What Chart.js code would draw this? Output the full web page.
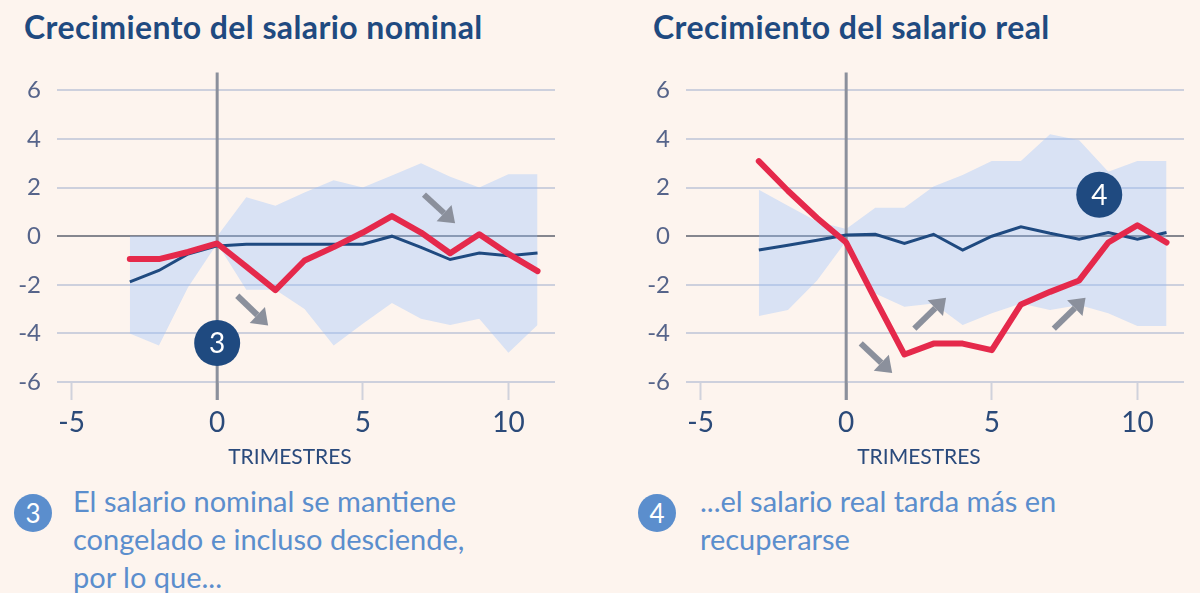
<!DOCTYPE html>
<html lang="es">
<head>
  <meta charset="UTF-8" />
  <title>Crecimiento del salario</title>
  <script src="https://cdn.jsdelivr.net/npm/chart.js"></script>
  <style>
    body { margin: 0; width: 1200px; height: 593px; background: #fdf4ee; font-family: Lato, "Open Sans", sans-serif; position: relative; overflow: hidden; }
    .title { position: absolute; top: 11px; font-weight: 700; font-size: 32px; line-height: 32px; letter-spacing: 0.4px; color: #1f4a80; white-space: nowrap; }
    canvas { position: absolute; top: 60px; }
    .note { position: absolute; top: 482px; font-size: 29px; line-height: 38px; color: #5b8ecd; white-space: nowrap; }
    .dot { position: absolute; top: 494px; width: 38px; height: 38px; border-radius: 50%; background: #5b8ecd; color: #fff; font-size: 26px; line-height: 38px; text-align: center; }
  </style>
</head>
<body>
  <div class="title" style="left:24px">Crecimiento del salario nominal</div>
  <div class="title" style="left:653px">Crecimiento del salario real</div>

  <canvas id="chartNominal" width="571" height="420" style="left:0"></canvas>
  <canvas id="chartReal" width="571" height="420" style="left:629px"></canvas>

  <div class="dot" style="left:14px">3</div>
  <div class="note" style="left:73px">El salario nominal se mantiene<br>congelado e incluso desciende,<br>por lo que...</div>
  <div class="dot" style="left:638px">4</div>
  <div class="note" style="left:700px">...el salario real tarda más en<br>recuperarse</div>

  <script>
    // trimestres relativos al inicio
    const trimestres = [-3, -2, -1, 0, 1, 2, 3, 4, 5, 6, 7, 8, 9, 10, 11];
    const xTicks = [-5, 0, 5, 10];
    const yTicks = [-6, -4, -2, 0, 2, 4, 6];

    // salario nominal
    const nominalPais    = [-0.94, -0.94, -0.65, -0.3, -1.25, -2.22, -1.0, -0.45, 0.15, 0.83, 0.15, -0.7, 0.08, -0.73, -1.44];
    const nominalMediana = [-1.88, -1.41, -0.73, -0.4, -0.33, -0.33, -0.33, -0.33, -0.33, 0.0, -0.46, -0.96, -0.69, -0.8, -0.69];
    const nominalMax     = [0, 0, 0, 0, 1.6, 1.25, 1.8, 2.3, 2.0, 2.5, 3.0, 2.45, 2.0, 2.55, 2.55];
    const nominalMin     = [-4.0, -4.5, -2.1, -0.3, -2.2, -2.2, -3.0, -4.5, -3.6, -2.75, -3.4, -3.65, -3.4, -4.8, -3.65];

    // salario real
    const realPais    = [3.09, 1.87, 0.75, -0.26, -2.6, -4.87, -4.42, -4.42, -4.69, -2.81, -2.29, -1.82, -0.26, 0.45, -0.26];
    const realMediana = [-0.57, -0.37, -0.17, 0.05, 0.08, -0.3, 0.08, -0.57, 0.0, 0.39, 0.12, -0.12, 0.15, -0.12, 0.15];
    const realMax     = [1.91, 1.25, 0.6, 0.3, 1.17, 1.17, 2.05, 2.52, 3.09, 3.09, 4.2, 3.95, 2.65, 3.09, 3.09];
    const realMin     = [-3.28, -3.04, -1.82, -0.2, -2.36, -2.9, -2.77, -3.65, -3.17, -2.77, -3.04, -2.83, -3.17, -3.7, -3.7];

    // flechas [x0, y0, x1, y1] y marcadores en coordenadas de datos
    const flechasNominal = [[0.69, -2.45, 1.75, -3.67], [7.1, 1.71, 8.17, 0.53]];
    const flechasReal = [[0.5, -4.41, 1.58, -5.63], [2.34, -3.8, 3.43, -2.53], [7.13, -3.8, 8.22, -2.53]];
    const marcaNominal = { x: 0, y: -4.4, label: "3" };
    const marcaReal = { x: 8.69, y: 1.71, label: "4" };

    const ROJO = "#e5294b";
    const AZUL = "#1f4a80";
    const BANDA = "rgba(150, 193, 255, 0.35)";
    const GRIS = "#8b909c";

    const pts = (ys) => trimestres.map((x, i) => ({ x: x, y: ys[i] }));

    function dibujarFlecha(ctx, x0, y0, x1, y1) {
      const ang = Math.atan2(y1 - y0, x1 - x0);
      const head = 15;
      ctx.strokeStyle = GRIS;
      ctx.fillStyle = GRIS;
      ctx.lineWidth = 6;
      ctx.lineCap = "butt";
      ctx.beginPath();
      ctx.moveTo(x0, y0);
      ctx.lineTo(x1 - Math.cos(ang) * head, y1 - Math.sin(ang) * head);
      ctx.stroke();
      ctx.beginPath();
      ctx.moveTo(x1, y1);
      ctx.lineTo(x1 - Math.cos(ang) * head + Math.sin(ang) * 11, y1 - Math.sin(ang) * head - Math.cos(ang) * 11);
      ctx.lineTo(x1 - Math.cos(ang) * head - Math.sin(ang) * 11, y1 - Math.sin(ang) * head + Math.cos(ang) * 11);
      ctx.closePath();
      ctx.fill();
    }

    function crearGrafico(id, pais, mediana, maxi, mini, flechas, marca) {
      const ctx = document.getElementById(id).getContext("2d");

      const decoracion = {
        id: "decoracion",
        beforeDatasetsDraw(chart) {
          const c = chart.ctx;
          const x = chart.scales.x.getPixelForValue(0);
          c.save();
          c.strokeStyle = GRIS;
          c.lineWidth = 3;
          c.beginPath();
          c.moveTo(x, chart.chartArea.top - 18);
          c.lineTo(x, chart.chartArea.bottom + 18);
          c.stroke();
          c.restore();
        },
        afterDatasetsDraw(chart) {
          const c = chart.ctx;
          const sx = chart.scales.x, sy = chart.scales.y;
          c.save();
          flechas.forEach(f => {
            dibujarFlecha(c, sx.getPixelForValue(f[0]), sy.getPixelForValue(f[1]),
                             sx.getPixelForValue(f[2]), sy.getPixelForValue(f[3]));
          });
          const mx = sx.getPixelForValue(marca.x), my = sy.getPixelForValue(marca.y);
          c.fillStyle = AZUL;
          c.beginPath();
          c.arc(mx, my, 23, 0, Math.PI * 2);
          c.fill();
          c.fillStyle = "#fff";
          c.font = "28px Lato";
          c.textAlign = "center";
          c.textBaseline = "middle";
          c.fillText(marca.label, mx, my + 1);
          // titulo del eje, centrado sobre las marcas
          const tx = (sx.getPixelForValue(xTicks[0]) + sx.getPixelForValue(xTicks[xTicks.length - 1])) / 2;
          c.fillStyle = "#2a4a7c";
          c.font = "21px Lato";
          c.fillText("TRIMESTRES", tx, chart.chartArea.bottom + 75);
          c.restore();
        }
      };

      return new Chart(ctx, {
        type: "line",
        data: {
          datasets: [
            { data: pts(pais), borderColor: ROJO, borderWidth: 6, borderCapStyle: "round", borderJoinStyle: "round", pointRadius: 0, fill: false },
            { data: pts(mediana), borderColor: AZUL, borderWidth: 3, pointRadius: 0, fill: false },
            { data: pts(maxi), borderWidth: 0, borderColor: "rgba(0,0,0,0)", backgroundColor: BANDA, pointRadius: 0, fill: "+1" },
            { data: pts(mini), borderWidth: 0, borderColor: "rgba(0,0,0,0)", pointRadius: 0, fill: false }
          ]
        },
        options: {
          responsive: false,
          animation: false,
          devicePixelRatio: 1,
          layout: { padding: { left: 0, right: 16, top: 28, bottom: 0 } },
          plugins: {
            legend: { display: false },
            tooltip: { enabled: false },
            filler: { drawTime: "beforeDatasetsDraw" }
          },
          scales: {
            x: {
              type: "linear",
              min: -5.5,
              max: 11.6,
              afterBuildTicks: axis => { axis.ticks = xTicks.map(v => ({ value: v })); },
              afterFit: axis => { axis.height = 98; },
              border: { display: false },
              grid: {
                drawOnChartArea: false,
                drawTicks: true,
                tickLength: 18,
                tickWidth: 2,
                tickColor: c => c.tick && c.tick.value === 0 ? GRIS : "#d0d2dc"
              },
              ticks: { font: { family: "Lato", size: 28 }, color: "#2b4a79", padding: 6, maxRotation: 0 }
            },
            y: {
              min: -6,
              max: 6,
              afterBuildTicks: axis => { axis.ticks = yTicks.map(v => ({ value: v })); },
              afterFit: axis => { axis.width = 57; },
              border: { display: false },
              grid: {
                drawTicks: false,
                lineWidth: 2,
                color: c => c.tick && c.tick.value === 0 ? "#85868e" : "#cdd0dd"
              },
              ticks: { font: { family: "Lato", size: 24 }, color: "#56648a", padding: 16 }
            }
          }
        },
        plugins: [decoracion]
      });
    }

    crearGrafico("chartNominal", nominalPais, nominalMediana, nominalMax, nominalMin, flechasNominal, marcaNominal);
    crearGrafico("chartReal", realPais, realMediana, realMax, realMin, flechasReal, marcaReal);
  </script>
</body>
</html>
